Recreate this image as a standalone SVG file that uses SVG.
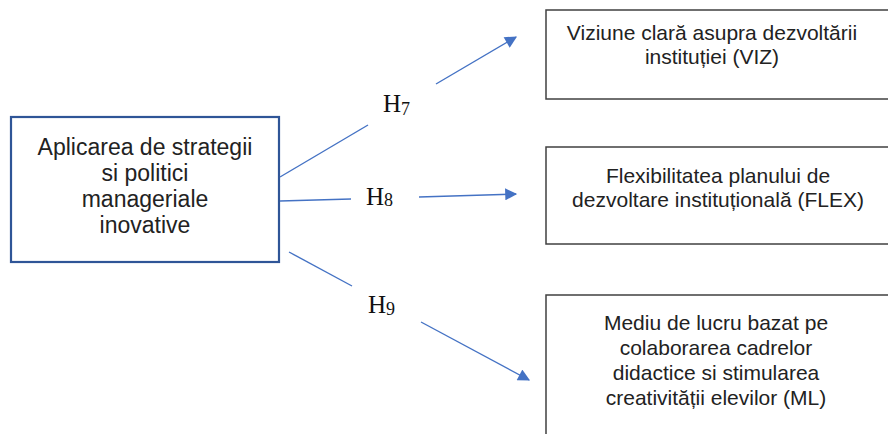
<svg xmlns="http://www.w3.org/2000/svg" width="888" height="434" viewBox="0 0 888 434">
<style>
.box{fill:#fff;stroke:#404040;stroke-width:1.5}
.src{fill:#fff;stroke:#2F5597;stroke-width:2.2}
.t{font-family:"Liberation Sans",Arial,sans-serif;font-size:21px;fill:#222;text-anchor:middle}
.tl{font-family:"Liberation Sans",Arial,sans-serif;font-size:23px;fill:#222;text-anchor:middle}
.h{font-family:"Liberation Serif","Times New Roman",serif;font-size:25px;fill:#111}
.c{fill:none;stroke:#4472C4;stroke-width:1.4}
</style>
<defs>
<marker id="ah" viewBox="0 0 10 10" refX="9" refY="5" markerWidth="13" markerHeight="12" markerUnits="userSpaceOnUse" orient="auto">
<path d="M0,0 L10,5 L0,10 z" fill="#4472C4"/>
</marker>
</defs>
<g id="src">
<rect class="src" x="11" y="117" width="268" height="145"/>
<text class="tl" x="145" y="155">Aplicarea de strategii</text>
<text class="tl" x="145" y="181">si politici</text>
<text class="tl" x="145" y="207">manageriale</text>
<text class="tl" x="145" y="233">inovative</text>
</g>
<g id="viz">
<rect class="box" x="546" y="10" width="350" height="89"/>
<text class="t" x="712" y="40">Viziune clară asupra dezvoltării</text>
<text class="t" x="712" y="64">instituției (VIZ)</text>
</g>
<g id="flex">
<rect class="box" x="546" y="147" width="350" height="97"/>
<text class="t" x="718" y="183">Flexibilitatea planului de</text>
<text class="t" x="718" y="207">dezvoltare instituțională (FLEX)</text>
</g>
<g id="ml">
<rect class="box" x="546" y="295" width="350" height="150"/>
<text class="t" x="716" y="330">Mediu de lucru bazat pe</text>
<text class="t" x="716" y="355">colaborarea cadrelor</text>
<text class="t" x="716" y="380">didactice si stimularea</text>
<text class="t" x="716" y="405">creativității elevilor (ML)</text>
</g>
<g id="connectors">
<line class="c" x1="280" y1="177" x2="368" y2="125"/>
<line class="c" x1="436" y1="84" x2="516" y2="37" marker-end="url(#ah)"/>
<line class="c" x1="280" y1="201" x2="351" y2="199"/>
<line class="c" x1="419" y1="197" x2="516" y2="194" marker-end="url(#ah)"/>
<line class="c" x1="289" y1="252" x2="352" y2="286"/>
<line class="c" x1="421" y1="322" x2="529" y2="380" marker-end="url(#ah)"/>
<text class="h" x="383" y="112">H<tspan font-size="18" dy="3">7</tspan></text>
<text class="h" x="366" y="205">H<tspan font-size="18" dy="1">8</tspan></text>
<text class="h" x="368" y="313">H<tspan font-size="18" dy="2">9</tspan></text>
</g>
</svg>
